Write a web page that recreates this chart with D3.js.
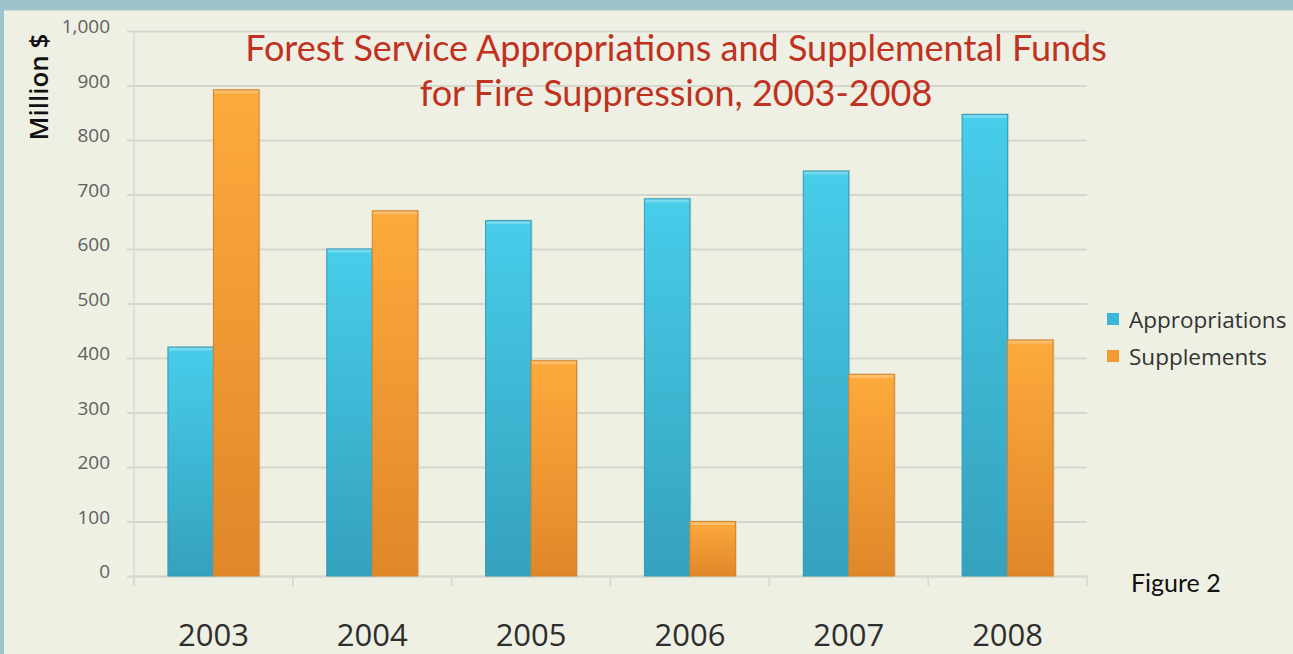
<!DOCTYPE html>
<html>
<head>
<meta charset="utf-8">
<script src="https://cdn.jsdelivr.net/npm/d3@7"></script>
<style>
  html, body { margin: 0; padding: 0; background: #9dc3cb; }
  svg { display: block; }
</style>
</head>
<body>
<div id="chart"></div>
<script>
const years = ['2003', '2004', '2005', '2006', '2007', '2008'];
const appropriations = [420, 600, 652, 692, 743, 847];
const supplements = [892, 670, 395, 100, 370, 433];
const seriesNames = ['Appropriations', 'Supplements'];
const yTicks = [0, 100, 200, 300, 400, 500, 600, 700, 800, 900, 1000];

let W = 1293, H = 654;
let margin = { top: 31, right: 206, bottom: 78, left: 134 };
let width = W - margin.left - margin.right;   // 953
let height = H - margin.top - margin.bottom;  // 545

let svg = d3.select('#chart').append('svg')
    .attr('width', W)
    .attr('height', H);

let defs = svg.append('defs');
let grads = [
    { id: 'gBlue', top: '#47cdea', bottom: '#35a1bd' },
    { id: 'gOrange', top: '#fdaa3c', bottom: '#e0872a' }
];
grads.forEach(function(g) {
    let lg = defs.append('linearGradient').attr('id', g.id)
        .attr('x1', 0).attr('y1', 0).attr('x2', 0).attr('y2', 1);
    lg.append('stop').attr('offset', '0%').attr('stop-color', g.top);
    lg.append('stop').attr('offset', '100%').attr('stop-color', g.bottom);
});

// panel
svg.append('rect')
    .attr('x', 4).attr('y', 10)
    .attr('width', W - 4).attr('height', H - 10)
    .attr('fill', '#eef0e4');
svg.append('line')
    .attr('x1', 4).attr('x2', W).attr('y1', 10.5).attr('y2', 10.5)
    .attr('stroke', '#d6d9cf').attr('stroke-width', 1);

let g = svg.append('g')
    .attr('transform', 'translate(' + margin.left + ',' + margin.top + ')');

let x0 = d3.scaleBand().domain(years).range([0, width]).paddingInner(0).paddingOuter(0);
let x1 = d3.scaleBand().domain(seriesNames).range([0, 91]);
let y = d3.scaleLinear().domain([0, 1000]).range([height, 0]);
let colors = d3.scaleOrdinal().domain(seriesNames).range(['url(#gBlue)', 'url(#gOrange)']);
let edge = d3.scaleOrdinal().domain(seriesNames).range(['#2f9bb7', '#d98324']);
let legendCol = d3.scaleOrdinal().domain(seriesNames).range(['#3cb6d8', '#f39a34']);

// gridlines
let yAxis = d3.axisLeft(y).tickValues(yTicks).tickSize(-width - 7)
    .tickFormat(d3.format(','));
let ya = g.append('g').attr('transform', 'translate(0,0)').call(yAxis);
ya.select('.domain').remove();
ya.selectAll('.tick line')
    .attr('x1', -7)
    .attr('x2', width)
    .attr('stroke', '#d5d7cc').attr('stroke-width', 2);
ya.selectAll('.tick text')
    .attr('x', -24)
    .attr('dy', '0.1em')
    .attr('fill', '#606060')
    .style('font-family', 'Open Sans, sans-serif')
    .style('font-size', '19px');

// y axis line
g.append('line')
    .attr('x1', 0).attr('x2', 0).attr('y1', 0).attr('y2', height + 8)
    .attr('stroke', '#d8dacf').attr('stroke-width', 1.5);

// x axis
let xAxis = d3.axisBottom(x0).tickSize(0).tickFormat('');
let xa = g.append('g').attr('transform', 'translate(0,' + height + ')').call(xAxis);
xa.select('.domain').attr('stroke', '#d5d7cc').attr('stroke-width', 2);
xa.selectAll('.tick').remove();
years.concat(['end']).forEach(function(yr, i) {
    let xp = i < years.length ? x0(yr) : width;
    g.append('line')
        .attr('x1', xp).attr('x2', xp)
        .attr('y1', height).attr('y2', height + 10)
        .attr('stroke', '#d5d7cc').attr('stroke-width', 1.5);
});
g.selectAll('.xlab').data(years).enter().append('text')
    .attr('class', 'xlab')
    .attr('x', d => x0(d) + x0.bandwidth() / 2)
    .attr('y', height + 70)
    .attr('text-anchor', 'middle')
    .attr('fill', '#2e2e2e')
    .style('font-family', 'Open Sans, sans-serif')
    .style('font-size', '31px')
    .text(d => d);

// bars
let rows = years.map(function(yr, i) {
    return { year: yr, vals: [
        { key: seriesNames[0], value: appropriations[i] },
        { key: seriesNames[1], value: supplements[i] }
    ] };
});
let groups = g.selectAll('.grp').data(rows).enter().append('g')
    .attr('class', 'grp')
    .attr('transform', d => 'translate(' + (x0(d.year) + (x0.bandwidth() - 91) / 2) + ',0)');

// soft shadow
groups.selectAll('.shadow').data(d => d.vals).enter().append('rect')
    .attr('x', d => x1(d.key) + 1.5)
    .attr('y', d => y(d.value) - 1)
    .attr('width', x1.bandwidth())
    .attr('height', d => height - y(d.value) + 1)
    .attr('fill', '#c9c8bb').attr('opacity', 0.7);

groups.selectAll('.bar').data(d => d.vals).enter().append('rect')
    .attr('class', 'bar')
    .attr('x', d => x1(d.key))
    .attr('y', d => y(d.value))
    .attr('width', x1.bandwidth())
    .attr('height', d => height - y(d.value))
    .attr('fill', d => colors(d.key))
    .attr('stroke', d => edge(d.key))
    .attr('stroke-width', 1);

// top highlight
groups.selectAll('.hl').data(d => d.vals).enter().append('rect')
    .attr('x', d => x1(d.key) + 1)
    .attr('y', d => y(d.value) + 0.5)
    .attr('width', x1.bandwidth() - 2)
    .attr('height', 3)
    .attr('fill', '#ffffff').attr('opacity', 0.25);

// y label
svg.append('text')
    .attr('transform', 'translate(48,87) rotate(-90)')
    .attr('text-anchor', 'middle')
    .attr('fill', '#111')
    .style('font-family', 'Open Sans, sans-serif')
    .style('font-size', '26px')
    .style('font-weight', '600')
    .text('Million $');

// title
let title = svg.append('text')
    .attr('text-anchor', 'middle')
    .attr('fill', '#c0321f')
    .style('font-family', 'Lato, sans-serif')
    .style('font-size', '36px');
title.append('tspan').attr('x', 676).attr('y', 61)
    .text('Forest Service Appropriations and Supplemental Funds');
title.append('tspan').attr('x', 676).attr('y', 106)
    .text('for Fire Suppression, 2003-2008');

// legend
let legend = svg.append('g').attr('transform', 'translate(1107,313)');
seriesNames.forEach(function(name, i) {
    legend.append('rect')
        .attr('x', 0).attr('y', i * 37)
        .attr('width', 12).attr('height', 12)
        .attr('fill', legendCol(name));
    legend.append('text')
        .attr('x', 22).attr('y', i * 37 + 15)
        .attr('fill', '#333')
        .style('font-family', 'Open Sans, sans-serif')
        .style('font-size', '22.5px')
        .text(name);
});

// figure note
svg.append('text')
    .attr('x', 1131).attr('y', 592)
    .attr('fill', '#111')
    .style('font-family', 'Lato, sans-serif')
    .style('font-size', '25px')
    .text('Figure 2');
</script>
</body>
</html>
